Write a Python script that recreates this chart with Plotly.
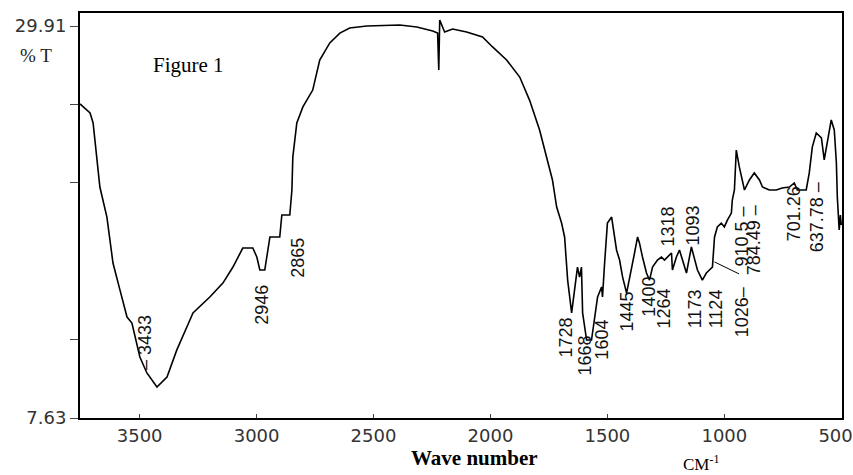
import plotly.graph_objects as go

# Spectrum trace (wavenumber in cm-1, transmittance %T)
wavenumber = [3755, 3712, 3699, 3682, 3670, 3640, 3614, 3584, 3554, 3533, 3512, 3499, 3469,
              3426, 3383, 3341, 3285, 3272, 3200, 3144, 3101, 3059, 3016, 2999, 2986, 2965,
              2943, 2901, 2892, 2858, 2849, 2845, 2828, 2802, 2760, 2730, 2687, 2644, 2602,
              2529, 2388, 2315, 2247, 2226, 2221, 2217, 2196, 2162, 2102, 2034, 1991, 1931,
              1875, 1833, 1790, 1756, 1735, 1717, 1696, 1683, 1670, 1653, 1641, 1628, 1619,
              1611, 1606, 1589, 1568, 1555, 1542, 1525, 1521, 1512, 1500, 1482, 1478, 1461,
              1448, 1435, 1418, 1406, 1384, 1371, 1363, 1350, 1333, 1320, 1307, 1286, 1269,
              1256, 1243, 1226, 1222, 1205, 1192, 1179, 1162, 1141, 1128, 1115, 1094, 1077,
              1064, 1051, 1042, 1030, 1013, 1000, 987, 970, 966, 957, 949, 936, 914, 893,
              872, 850, 837, 808, 778, 753, 722, 701, 688, 650, 637, 624, 607, 585, 573, 564,
              551, 543, 530, 521, 517, 509, 504, 500]
transmittance = [25.48, 24.97, 24.40, 22.46, 20.76, 19.05, 16.44, 14.90, 13.37, 13.03, 11.89,
                 11.10, 10.19, 9.39, 9.96, 11.50, 13.20, 13.60, 14.51, 15.30, 16.21, 17.29,
                 17.29, 16.78, 16.04, 16.04, 17.92, 17.92, 19.17, 19.17, 20.59, 22.47, 24.40,
                 25.31, 26.27, 27.98, 28.95, 29.51, 29.80, 29.91, 29.97, 29.85, 29.63, 29.51,
                 27.41, 30.25, 29.57, 29.74, 29.57, 29.29, 28.72, 27.98, 27.01, 25.70, 24.00,
                 22.30, 21.16, 19.62, 18.71, 17.92, 15.47, 13.60, 14.91, 16.21, 15.64, 16.21,
                 13.60, 12.06, 12.06, 13.20, 14.51, 15.08, 14.51, 16.44, 18.71, 19.05, 18.71,
                 17.18, 16.61, 15.64, 14.73, 15.47, 17.01, 17.92, 17.58, 16.78, 15.87, 15.47,
                 16.21, 16.61, 16.78, 16.61, 16.78, 17.01, 16.04, 16.78, 17.18, 16.61, 15.87,
                 17.35, 16.61, 16.04, 15.47, 15.87, 16.04, 16.21, 17.92, 18.49, 18.71, 18.49,
                 18.88, 19.28, 20.02, 20.59, 22.86, 21.90, 20.59, 21.16, 21.56, 21.16, 20.76,
                 20.59, 20.59, 20.70, 20.76, 20.99, 20.59, 20.59, 21.56, 23.03, 23.83, 23.55,
                 22.30, 23.03, 24.17, 24.57, 24.00, 22.12, 20.19, 18.32, 19.17, 18.60]

# Peak labels: text and where each label sits (axis units)
peak_text = ["\u2013 3433", "2946", "2865", "1728", "1668", "1604", "1445", "1400", "1264",
             "1318", "1093", "1173", "1124", "1026\u2013", "910.5 \u2013", "784.49 \u2013",
             "701.26", "637.78 \u2013"]
peak_x = [3477, 2978, 2824, 1679, 1594, 1525, 1414, 1320, 1256, 1239, 1132, 1124, 1034,
          923, 923, 872, 701, 603]
peak_y = [11.89, 14.05, 16.72, 12.18, 11.21, 12.06, 13.65, 14.50, 13.88, 18.54, 18.60,
          13.83, 13.83, 13.66, 17.97, 17.75, 19.22, 19.05]

x_ticks = [3500, 3000, 2500, 2000, 1500, 1000, 500]
x_ticktext = ["3500", "3000", "2500", "2000", "1500", "1000", "500\u00a0\u00a0"]
y_min, y_max = 7.63, 29.91
y_labelled = [7.63, 29.91]
y_minor = [12.086, 20.998, 25.454]

fig = go.Figure()
fig.add_trace(go.Scatter(x=wavenumber, y=transmittance, mode="lines",
                         line=dict(color="black", width=1.6), hoverinfo="skip",
                         showlegend=False))

label_font = "Liberation Sans, Arial, sans-serif"
for t, x, y in zip(peak_text, peak_x, peak_y):
    fig.add_annotation(x=x, y=y, text=t, textangle=-90, showarrow=False,
                       xanchor="center", yanchor="middle",
                       font=dict(family=label_font, size=18, color="#111"))

# leader line for 1026
fig.add_shape(type="line", x0=1042, y0=16.50, x1=937, y1=15.82,
              line=dict(color="black", width=1))

serif = "Liberation Serif, Times New Roman, serif"
fig.add_annotation(xref="paper", yref="paper", x=0.142, y=0.872, text="Figure 1",
                   showarrow=False, xanchor="center", yanchor="middle",
                   font=dict(family=serif, size=21, color="black"))
fig.add_annotation(xref="paper", yref="paper", x=-0.058, y=0.895, text="% T",
                   showarrow=False, xanchor="center", yanchor="middle",
                   font=dict(family=serif, size=19, color="#222"))
fig.add_annotation(xref="paper", yref="paper", x=0.518, y=-0.099, text="<b>Wave number</b>",
                   showarrow=False, xanchor="center", yanchor="middle",
                   font=dict(family=serif, size=21, color="black"))
fig.add_annotation(xref="paper", yref="paper", x=0.815, y=-0.11,
                   text="CM<sup>-1</sup>", showarrow=False, xanchor="center",
                   yanchor="middle", font=dict(family=serif, size=17, color="black"))

fig.update_xaxes(range=[3755, 497], tickvals=x_ticks, ticktext=x_ticktext,
                 ticks="inside", ticklen=4, ticklabeloverflow="allow", automargin=False,
                 tickcolor="#444", showgrid=False, zeroline=False, showline=True,
                 linecolor="black", linewidth=2, mirror=True,
                 tickfont=dict(family="DejaVu Sans, Verdana, sans-serif", size=18,
                               color="#333"))
fig.update_yaxes(range=[y_min, 30.65], tickvals=y_labelled, automargin=False,
                 ticks="outside", ticklen=8, tickcolor="#444", showgrid=False,
                 minor=dict(tickvals=y_minor, ticks="outside", ticklen=8,
                            tickcolor="#444", showgrid=False),
                 zeroline=False, showline=True, linecolor="black", linewidth=2,
                 mirror=True,
                 tickfont=dict(family="DejaVu Sans, Verdana, sans-serif", size=18,
                               color="#333"))
fig.update_layout(width=853, height=475, margin=dict(l=80, r=11, t=13, b=57),
                  plot_bgcolor="white", paper_bgcolor="white")
fig.write_html("out.html", config={"displayModeBar": False},
               post_script="document.body.style.margin='0px';")
